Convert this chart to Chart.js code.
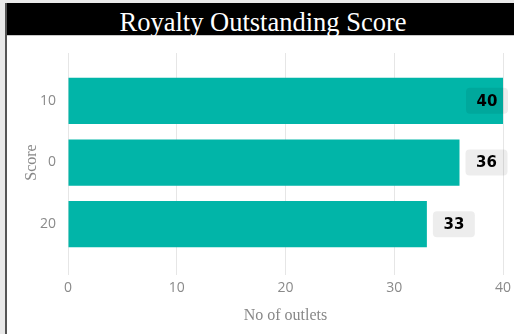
<!DOCTYPE html>
<html>
<head>
<meta charset="utf-8">
<script src="https://cdn.jsdelivr.net/npm/chart.js@4.4.0/dist/chart.umd.min.js"></script>
<style>
  body { margin: 0; background: #e9e9e9; }
  #panel { position: absolute; left: 5px; top: 3px; width: 507px; height: 331px; border-left: 2px solid #555; background: #fff; }
  #title { height: 32px; line-height: 32px; background: #000; color: #fff; font-family: "Liberation Serif", serif; font-size: 26.5px; text-align: center; padding-left: 5px; border-bottom: 1px solid #c8c8c8; white-space: nowrap; }
  #title span { position: relative; top: 3px; }
  #box { position: relative; width: 507px; height: 298px; }
</style>
</head>
<body>
<div id="panel">
  <div id="title"><span>Royalty Outstanding Score</span></div>
  <div id="box"><canvas id="score-chart"></canvas></div>
</div>
<script>
let categories = ["10", "0", "20"];
let outlets = [40, 36, 33];
let xTicks = [0, 10, 20, 30, 40];
let barColor = "#01b5a8";

const gridColor = "#e6e6e6";
const tickFont = { family: "Open Sans", size: 14 };
const titleFont = { family: "Liberation Serif", size: 16 };

// grey rounded boxes with the value, just past the end of each bar
const valueBoxes = {
    id: "valueBoxes",
    afterDatasetsDraw(chart) {
        const ctx = chart.ctx;
        const area = chart.chartArea;
        const meta = chart.getDatasetMeta(0);
        const w = 42, h = 26;
        ctx.save();
        ctx.font = "bold 15px 'DejaVu Sans'";
        ctx.textAlign = "center";
        ctx.textBaseline = "middle";
        meta.data.forEach((bar, i) => {
            let x = Math.min(bar.x + 6, area.right + 5 - w);
            let y = bar.y - h / 2;
            ctx.fillStyle = "rgba(0, 0, 0, 0.07)";
            ctx.beginPath();
            ctx.roundRect(x, y, w, h, 4);
            ctx.fill();
            ctx.fillStyle = "#000";
            ctx.fillText(outlets[i], x + w / 2, bar.y + 1);
        });
        ctx.restore();
    },
};

// fixed axis sizes so the plot sits where the reference has it
function fixHeight(h) {
    return (s) => {
        s.height = h;
        s.paddingLeft = 0;
        s.paddingRight = 0;
    };
}

new Chart(document.getElementById("score-chart"), {
    type: "bar",
    data: {
        labels: categories,
        datasets: [
            {
                data: outlets,
                backgroundColor: barColor,
                barPercentage: 0.75,
                categoryPercentage: 1,
            },
        ],
    },
    options: {
        indexAxis: "y",
        responsive: true,
        maintainAspectRatio: false,
        animation: false,
        layout: { padding: { right: 11 } },
        plugins: {
            legend: { display: false },
            tooltip: { enabled: false },
        },
        scales: {
            x: {
                min: xTicks[0],
                max: xTicks[xTicks.length - 1],
                ticks: { stepSize: 10, padding: 5, color: "#8a8a8a", font: tickFont },
                grid: { color: gridColor, tickLength: 20 },
                border: { display: false },
                title: {
                    display: true,
                    text: "No of outlets",
                    color: "#888",
                    font: titleFont,
                    padding: { top: 0, bottom: 9 },
                },
                afterFit: fixHeight(79),
            },
            xTop: {
                type: "linear",
                axis: "x",
                position: "top",
                min: xTicks[0],
                max: xTicks[xTicks.length - 1],
                ticks: { stepSize: 10, display: false },
                grid: { color: gridColor, tickLength: 17, drawOnChartArea: false },
                border: { display: false },
                afterFit: fixHeight(34),
            },
            y: {
                grid: { display: false, drawTicks: false },
                border: { display: false },
                ticks: { padding: 12, color: "#8a8a8a", font: tickFont },
                title: {
                    display: true,
                    text: "Score",
                    color: "#888",
                    font: titleFont,
                    padding: { top: 15, bottom: 0 },
                },
                afterFit: (s) => { s.width = 61; },
            },
        },
    },
    plugins: [valueBoxes],
});
</script>
</body>
</html>
